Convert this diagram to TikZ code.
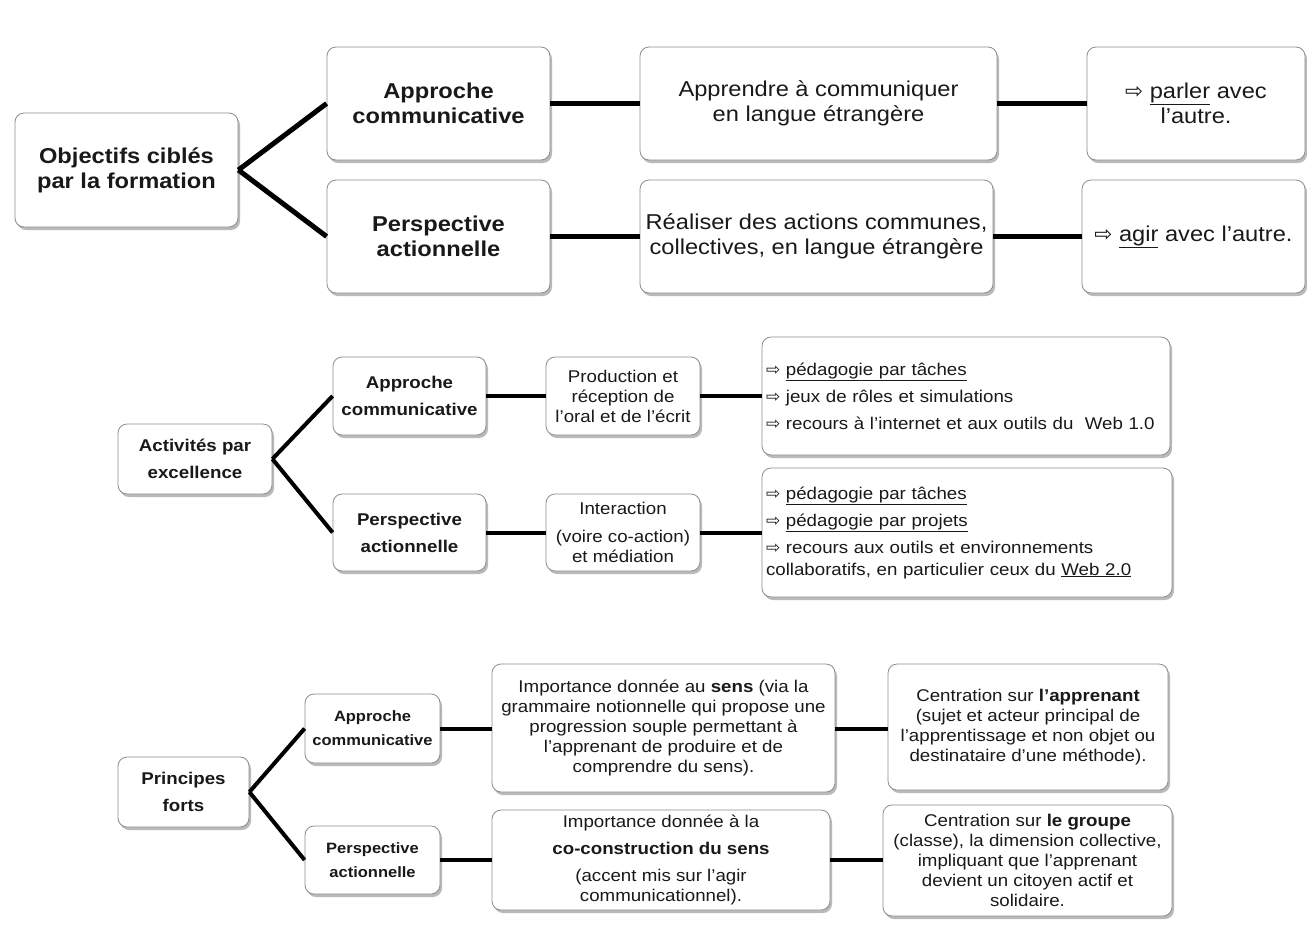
\documentclass[tikz,border=0pt]{standalone}
\usepackage{fontspec}
\setmainfont{Liberation Sans}[FakeStretch=1.1]
\newfontfamily\sym{DejaVu Sans}
\usetikzlibrary{shadows}
\newcommand{\ar}{{\sym ⇨}}
\begin{document}
\begin{tikzpicture}[x=1pt,y=-1pt,
  box/.style={draw=black!45, line width=0.8pt, fill=white, rounded corners=9pt,
    drop shadow={shadow xshift=2pt, shadow yshift=-3pt, opacity=0.45, fill=black!60},
    inner sep=2pt, align=center, text=black!90},
  conA/.style={line width=5pt, black},
  conB/.style={line width=4pt, black},
  fA/.style={font=\fontsize{21.5}{25}\selectfont},
  fB/.style={font=\fontsize{17}{27}\selectfont},
  fBm/.style={font=\fontsize{17}{20}\selectfont},
  fC/.style={font=\fontsize{15}{24}\selectfont},
  fCt/.style={font=\fontsize{17}{20}\selectfont},
]
\useasboundingbox[fill=white] (0,0) rectangle (1307,951);

% ---------- Section 1 ----------
\node[box,fA,minimum width=223,minimum height=114] (obj) at (126.5,170) {\textbf{Objectifs ciblés}\\\textbf{par la formation}};
\node[box,fA,minimum width=223,minimum height=113] (ac1) at (438.5,103.5) {\textbf{Approche}\\\textbf{communicative}};
\node[box,fA,minimum width=223,minimum height=113] (pa1) at (438.5,236.5) {\textbf{Perspective}\\\textbf{actionnelle}};
\node[box,fA,minimum width=357,minimum height=113] (app) at (818.5,103.5) {Apprendre à communiquer\\en langue étrangère};
\node[box,fA,minimum width=353,minimum height=113] (rea) at (816.5,236.5) {Réaliser des actions communes,\\collectives, en langue étrangère};
\node[box,fA,minimum width=218,minimum height=113] (par) at (1196,103.5) {\ar{} \underline{parler} avec\\l’autre.};
\node[box,fA,minimum width=223,minimum height=113] (agi) at (1193.5,236.5) {\ar{} \underline{agir} avec l’autre.};

\draw[conA] (obj.east) -- (ac1.west);
\draw[conA] (obj.east) -- (pa1.west);
\draw[conA] (ac1.east) -- (app.west);
\draw[conA] (pa1.east) -- (rea.west);
\draw[conA] (app.east) -- (par.west);
\draw[conA] (rea.east) -- (agi.west);

% ---------- Section 2 ----------
\node[box,fB,minimum width=154,minimum height=70] (act) at (195,459) {\textbf{Activités par}\\\textbf{excellence}};
\node[box,fB,minimum width=153,minimum height=78] (ac2) at (409.5,396) {\textbf{Approche}\\\textbf{communicative}};
\node[box,fB,minimum width=153,minimum height=77] (pa2) at (409.5,532.5) {\textbf{Perspective}\\\textbf{actionnelle}};
\node[box,fBm,minimum width=154,minimum height=78] (pro) at (623,396) {Production et\\réception de\\l’oral et de l’écrit};
\node[box,fBm,minimum width=154,minimum height=77] (int) at (623,532.5) {Interaction\\[8pt](voire co-action)\\et médiation};
\node[box,fBm,font=\fontsize{17}{27}\selectfont,minimum width=408,minimum height=118,text width=400,align=left] (l1) at (966,396)
  {\ar{} \underline{pédagogie par tâches}\\\ar{} jeux de rôles et simulations\\\ar{} recours à l’internet et aux outils du~ Web 1.0\\[-8pt]};
\node[box,fBm,font=\fontsize{17}{27}\selectfont,minimum width=410,minimum height=129,text width=402,align=left] (l2) at (967,532.5)
  {\ar{} \underline{pédagogie par tâches}\\\ar{} \underline{pédagogie par projets}\\\ar{} recours aux outils et environnements\\[-5pt]collaboratifs, en particulier ceux du \underline{Web 2.0}};

\draw[conB] (act.east) -- (ac2.west);
\draw[conB] (act.east) -- (pa2.west);
\draw[conB] (ac2.east) -- (pro.west);
\draw[conB] (pa2.east) -- (int.west);
\draw[conB] (pro.east) -- (pro.east -| l1.west);
\draw[conB] (int.east) -- (int.east -| l2.west);

% ---------- Section 3 ----------
\node[box,fB,minimum width=131,minimum height=70] (pri) at (183.5,792) {\textbf{Principes}\\\textbf{forts}};
\node[box,fC,minimum width=135,minimum height=69] (ac3) at (372.5,728.5) {\textbf{Approche}\\\textbf{communicative}};
\node[box,fC,minimum width=135,minimum height=68] (pa3) at (372.5,860) {\textbf{Perspective}\\\textbf{actionnelle}};
\node[box,fCt,minimum width=343,minimum height=128] (im1) at (663.5,728) {Importance donnée au \textbf{sens} (via la\\grammaire notionnelle qui propose une\\progression souple permettant à\\l’apprenant de produire et de\\comprendre du sens).};
\node[box,fCt,minimum width=338,minimum height=100] (im2) at (661,860) {Importance donnée à la\\[7pt]\textbf{co-construction du sens}\\[7pt](accent mis sur l’agir\\communicationnel).};
\node[box,fCt,minimum width=280,minimum height=126] (ce1) at (1028,727) {Centration sur \textbf{l’apprenant}\\(sujet et acteur principal de\\l’apprentissage et non objet ou\\destinataire d’une méthode).};
\node[box,fCt,minimum width=289,minimum height=111] (ce2) at (1027.5,860.5) {Centration sur \textbf{le groupe}\\(classe), la dimension collective,\\impliquant que l’apprenant\\devient un citoyen actif et\\solidaire.};

\draw[conB] (pri.east) -- (ac3.west);
\draw[conB] (pri.east) -- (pa3.west);
\draw[conB] (ac3.east) -- (ac3.east -| im1.west);
\draw[conB] (pa3.east) -- (pa3.east -| im2.west);
\draw[conB] (ac3.east -| im1.east) -- (ac3.east -| ce1.west);
\draw[conB] (pa3.east -| im2.east) -- (pa3.east -| ce2.west);
\end{tikzpicture}
\end{document}
